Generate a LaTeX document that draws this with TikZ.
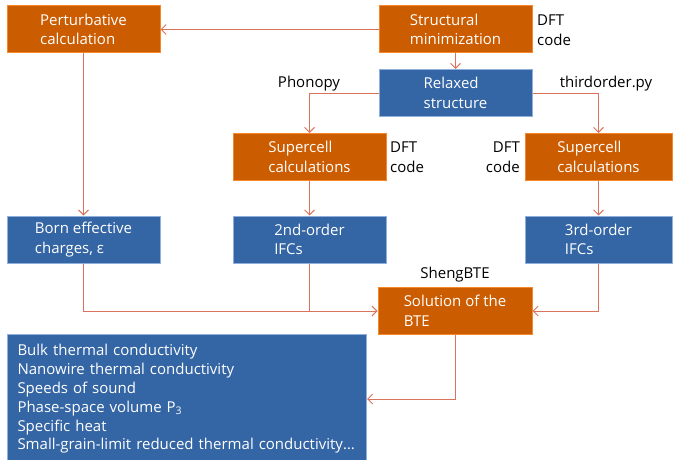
\documentclass[tikz,border=0pt]{standalone}
\usepackage{fontspec}
\setmainfont{Open Sans}
\usetikzlibrary{arrows.meta}
\definecolor{orfill}{HTML}{CC5C00}
\definecolor{ordraw}{HTML}{F5892A}
\definecolor{blfill}{HTML}{3465A4}
\definecolor{bldraw}{HTML}{8FB0DC}
\definecolor{conn}{HTML}{D9735C}
\tikzset{
  obox/.style={draw=ordraw, fill=orfill, line width=1pt, text=white, align=left, minimum width=153pt, minimum height=47pt, inner sep=2pt, font=\fontsize{15}{19.5}\selectfont},
  bbox/.style={draw=bldraw, fill=blfill, line width=1pt, text=white, align=left, minimum width=153pt, minimum height=47pt, inner sep=2pt, font=\fontsize{15}{19.5}\selectfont},
  lbl/.style={text=black, inner sep=0pt, font=\fontsize{15}{19.5}\selectfont},
  arr/.style={draw=conn, line width=0.9pt, -{Straight Barb[length=5pt,width=10pt]}},
  ln/.style={draw=conn, line width=0.9pt}
}
\begin{document}
\begin{tikzpicture}[x=1pt,y=-1pt]
\useasboundingbox (0,0) rectangle (674,460);
\node[obox] (pert) at (83.5,29.5) {Perturbative\\calculation};
\node[obox] (struct) at (455.5,29.5) {Structural\\minimization};
\node[bbox] (relax) at (455.5,93) {Relaxed\\structure};
\node[obox] (scL) at (309.5,157) {Supercell\\calculations};
\node[obox, minimum width=147pt] (scR) at (598.5,157) {Supercell\\calculations};
\node[bbox] (born) at (83.5,239.5) {Born effective\\charges, ε};
\node[bbox] (ifc2) at (309.5,239.5) {2nd-order\\IFCs};
\node[bbox, minimum width=147pt] (ifc3) at (598.5,239.5) {3rd-order\\IFCs};
\node[obox, minimum width=154pt] (sol) at (455,311) {Solution of the\\BTE};
\node[bbox, anchor=north west, text width=339pt, inner sep=10pt, minimum height=126pt, font=\fontsize{15}{18.8}\selectfont] (big) at (7,334) {Bulk thermal conductivity\\Nanowire thermal conductivity\\Speeds of sound\\Phase-space volume P\textsubscript{3}\\Specific heat\\Small-grain-limit reduced thermal conductivity…};
\node[lbl, anchor=west, align=left] (dft1) at (537,30) {DFT\\code};
\node[lbl, anchor=west, align=left] (dft2) at (390,157) {DFT\\code};
\node[lbl, anchor=east, align=right] (dft3) at (520,157) {DFT\\code};
\node[lbl] (phon) at (309,84) {Phonopy};
\node[lbl] (third) at (606,84) {thirdorder.py};
\node[lbl] (sheng) at (455,275) {ShengBTE};
\draw[arr] (struct.west) -- (pert.east);
\draw[arr] (struct.south) -- (relax.north);
\draw[arr] (relax.west) -| (scL.north);
\draw[arr] (relax.east) -| (scR.north);
\draw[arr] (pert.south) -- (born.north);
\draw[arr] (scL.south) -- (ifc2.north);
\draw[arr] (scR.south) -- (ifc3.north);
\draw[arr] (born.south) |- (sol.west);
\draw[ln] (ifc2.south) -- (ifc2.south |- sol.west);
\draw[arr] (ifc3.south) |- (sol.east);
\draw[arr] (sol.south) |- (big.east);
\end{tikzpicture}
\end{document}
